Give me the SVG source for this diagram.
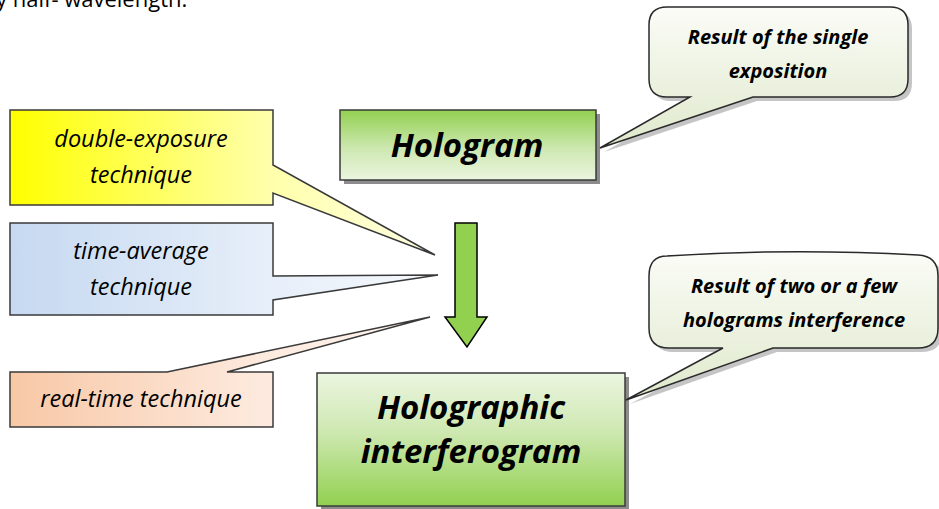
<svg xmlns="http://www.w3.org/2000/svg" width="939" height="509" viewBox="0 0 939 509">
<defs>
<linearGradient id="gYellow" gradientUnits="userSpaceOnUse" x1="10" y1="0" x2="435" y2="0"><stop offset="0" stop-color="#ffff00"/><stop offset="0.6" stop-color="#ffffa8"/><stop offset="1" stop-color="#ffffe6"/></linearGradient>
<linearGradient id="gBlue" gradientUnits="userSpaceOnUse" x1="10" y1="0" x2="438" y2="0"><stop offset="0" stop-color="#c6d9f1"/><stop offset="0.6" stop-color="#e6eef9"/><stop offset="1" stop-color="#f6f9fd"/></linearGradient>
<linearGradient id="gPeach" gradientUnits="userSpaceOnUse" x1="10" y1="0" x2="430" y2="0"><stop offset="0" stop-color="#f8c8a6"/><stop offset="0.6" stop-color="#fdeade"/><stop offset="1" stop-color="#fff6f0"/></linearGradient>
<linearGradient id="gGreenDown" x1="0" y1="0" x2="0" y2="1"><stop offset="0" stop-color="#92d050"/><stop offset="0.55" stop-color="#cde8b0"/><stop offset="1" stop-color="#ebf5e0"/></linearGradient>
<linearGradient id="gGreenUp" x1="0" y1="0" x2="0" y2="1"><stop offset="0" stop-color="#ebf5e0"/><stop offset="0.45" stop-color="#cde8b0"/><stop offset="1" stop-color="#92d050"/></linearGradient>
<linearGradient id="gCallout" x1="0" y1="0" x2="0" y2="1"><stop offset="0" stop-color="#fbfcf7"/><stop offset="1" stop-color="#dfe9cc"/></linearGradient>
</defs>
<style>
.lbl{font-family:"Open Sans","Liberation Sans",sans-serif;font-style:italic;font-size:23.5px;fill:#000;text-anchor:middle}
.big{font-family:"Open Sans","Liberation Sans",sans-serif;font-style:italic;font-weight:bold;fill:#000;text-anchor:middle}
.note{font-family:"Open Sans","Liberation Sans",sans-serif;font-style:italic;font-weight:bold;font-size:20px;fill:#000;text-anchor:middle}
.box{stroke:#3a3a3a;stroke-width:1.5}
.shadow{fill:#8c8c8c}
.callout{stroke:#2a2a2a;stroke-width:1.5;fill:url(#gCallout)}
</style>

<text x="-4" y="7" font-family="'Open Sans','Liberation Sans',sans-serif" font-size="22" fill="#000">y half- wavelength.</text>

<g id="double-exposure">
<path class="box" fill="url(#gYellow)" d="M10,110 H273 V165 L435,255 L273,193 V205 H10 Z"/>
<text class="lbl" x="141" y="147">double-exposure</text>
<text class="lbl" x="141" y="183">technique</text>
</g>

<g id="time-average">
<path class="box" fill="url(#gBlue)" d="M10,223 H273 V276 L438,275 L273,300 V315 H10 Z"/>
<text class="lbl" x="141" y="259">time-average</text>
<text class="lbl" x="141" y="295">technique</text>
</g>

<g id="real-time">
<path class="box" fill="url(#gPeach)" d="M10,372 H167 L430,317 L227,372 H273 V427 H10 Z"/>
<text class="lbl" x="141" y="407">real-time technique</text>
</g>

<g id="hologram">
<rect class="shadow" x="344" y="114" width="256" height="70"/>
<rect class="box" fill="url(#gGreenDown)" x="340" y="110" width="256" height="70" stroke="#1a1a1a"/>
<text class="big" x="467" y="157" font-size="33">Hologram</text>
</g>

<g id="note-single">
<path class="shadow" opacity="0.5" d="M671,11 H894 Q912,11 912,29 V83 Q912,101 894,101 H757 L604,152 L694,101 H671 Q653,101 653,83 V29 Q653,11 671,11 Z"/>
<path class="callout" d="M667,7 H890 Q908,7 908,25 V79 Q908,97 890,97 H753 L600,148 L690,97 H667 Q649,97 649,79 V25 Q649,7 667,7 Z"/>
<text class="note" x="778" y="44">Result of the single</text>
<text class="note" x="778" y="78">exposition</text>
</g>

<g id="interferogram">
<rect class="shadow" x="321" y="377" width="308" height="132"/>
<rect class="box" fill="url(#gGreenUp)" x="317" y="373" width="308" height="133" stroke="#1a1a1a"/>
<text class="big" x="471" y="419" font-size="33">Holographic</text>
<text class="big" x="471" y="463" font-size="33">interferogram</text>
</g>

<g id="note-interference">
<path class="shadow" opacity="0.5" d="M671,259 H920 Q942,259 942,279 V332 Q942,352 922,352 H777 L630,404 L727,352 H673 Q653,352 653,332 V279 Q653,259 671,259 Z"/>
<path class="callout" d="M667,256 Q790,248 918,255 Q938,256 938,276 V328 Q938,348 918,348 H773 L626,400 L723,348 H669 Q649,348 649,328 V276 Q649,256 667,256 Z"/>
<text class="note" x="794" y="293">Result of two or a  few</text>
<text class="note" x="794" y="327">holograms interference</text>
</g>

<g id="connectors">
<path d="M455,223 H477 V317 H487 L467,347 L445,317 H455 Z" fill="#92d050" stroke="#000" stroke-width="1.5" stroke-linejoin="miter"/>
</g>
</svg>
